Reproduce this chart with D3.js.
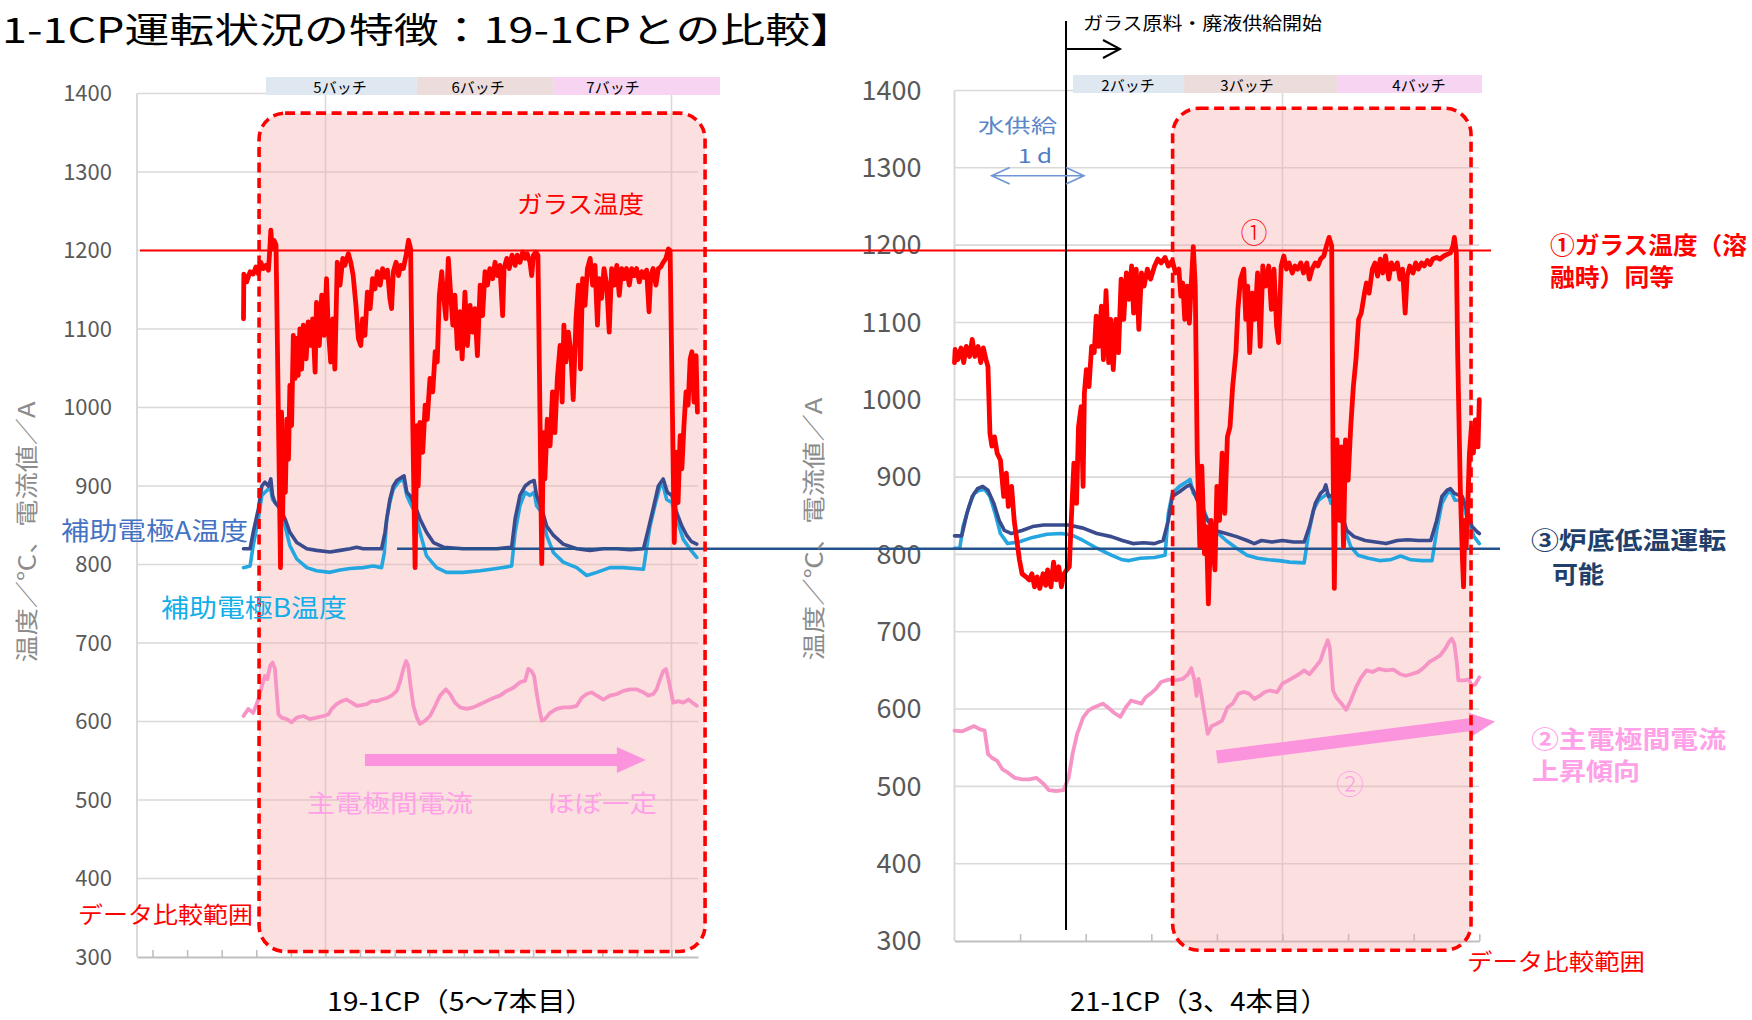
<!DOCTYPE html>
<html>
<head>
<meta charset="utf-8">
<script src="https://cdn.jsdelivr.net/npm/d3@7"></script>
<style>
  body { margin: 0; background: #fff; }
  svg { display: block; }
  text { font-family: "Noto Sans CJK JP", "Noto Sans", sans-serif; }
</style>
</head>
<body>
<svg id="chart" width="1752" height="1020"></svg>
<script>
// ---------------- data ----------------
// value axis (temperature / current), shared tick labels
const yTickValues = [300, 400, 500, 600, 700, 800, 900, 1000, 1100, 1200, 1300, 1400];

// time axis ticks (one tick per interval) and major gridlines
const leftTicks = [1, 2, 3, 4, 5, 6, 7, 8, 9, 10, 11, 12, 13, 14, 15, 16];
const leftGrid = [6, 16];
const rightTicks = [1, 2, 3, 4, 5, 6, 7, 8];
const rightGrid = [5];

// batch bands
const leftBatchNames = ["5バッチ", "6バッチ", "7バッチ"];
const leftBatchEdges = [4.28, 8.64, 12.58, 17.40];
const leftBatchLabelT = [6.42, 10.41, 14.31];
const rightBatchNames = ["2バッチ", "3バッチ", "4バッチ"];
const rightBatchEdges = [1.806, 3.50, 5.83, 8.04];
const rightBatchLabelT = [2.645, 4.459, 7.081];
const batchColors = ["#dfe7f1", "#ecdcdb", "#f6d4f2"];

// data comparison ranges [t0, t1, vLow, vHigh]
const leftRange = [4.08, 16.97, 307, 1375];
const rightRange = [3.325, 7.874, 288, 1377];

// reference levels
const glassLevel = 1200;      // glass temperature during melting
const bottomLevel = 820;      // low bottom temperature operation
const feedStartT = 1.70;      // start of glass frit / waste feed (21-1CP)
const waterFeedT = [0.567, 1.974];

// 19-1CP glass temperature [t, °C]
const leftGlass = [
  [3.63,1113],[3.64,1170],[3.72,1160],[3.82,1173],[3.91,1170],[3.99,1179],[4.06,1170],[4.13,1185],[4.20,1177],[4.28,1181],
  [4.35,1175],[4.38,1194],[4.42,1226],[4.46,1202],[4.51,1213],[4.57,1207],[4.64,985],[4.70,796],[4.73,994],[4.76,858],
  [4.80,968],[4.84,892],[4.88,985],[4.93,934],[4.97,1028],[5.02,977],[5.07,1092],[5.12,1037],[5.17,1088],[5.21,1041],
  [5.26,1100],[5.31,1049],[5.36,1105],[5.44,1062],[5.50,1109],[5.57,1079],[5.63,1113],[5.70,1045],[5.74,1134],[5.82,1079],
  [5.89,1143],[5.96,1092],[6.03,1164],[6.08,1100],[6.15,1058],[6.21,1113],[6.27,1049],[6.34,1185],[6.42,1156],[6.50,1190],
  [6.56,1181],[6.66,1196],[6.73,1185],[6.80,1168],[6.88,1130],[6.95,1088],[7.02,1079],[7.07,1113],[7.14,1092],[7.21,1147],
  [7.29,1126],[7.36,1164],[7.43,1151],[7.50,1173],[7.58,1156],[7.65,1177],[7.72,1166],[7.79,1175],[7.86,1139],[7.91,1126],
  [7.96,1173],[8.04,1185],[8.11,1168],[8.17,1181],[8.25,1177],[8.33,1194],[8.40,1213],[8.46,1202],[8.52,985],[8.59,796],
  [8.64,977],[8.68,900],[8.73,981],[8.81,943],[8.88,1003],[8.94,985],[9.02,1037],[9.10,1020],[9.17,1071],[9.23,1058],
  [9.29,1143],[9.36,1173],[9.41,1143],[9.48,1113],[9.55,1190],[9.62,1143],[9.68,1105],[9.74,1143],[9.81,1075],[9.89,1122],
  [9.95,1062],[10.03,1147],[10.10,1079],[10.18,1130],[10.25,1096],[10.32,1126],[10.39,1066],[10.47,1156],[10.54,1117],[10.61,1173],
  [10.68,1156],[10.75,1177],[10.83,1164],[10.90,1185],[10.97,1168],[11.04,1181],[11.12,1117],[11.16,1177],[11.24,1190],[11.31,1177],
  [11.39,1194],[11.48,1181],[11.54,1194],[11.62,1185],[11.70,1198],[11.77,1190],[11.83,1196],[11.91,1185],[11.96,1168],[12.01,1194],
  [12.08,1198],[12.14,1194],[12.20,985],[12.25,801],[12.30,968],[12.34,909],[12.41,985],[12.49,951],[12.56,1020],[12.63,968],
  [12.70,1037],[12.78,1079],[12.84,1007],[12.89,1105],[12.95,1058],[13.02,1096],[13.09,1071],[13.16,1010],[13.24,1113],[13.31,1156],
  [13.37,1049],[13.43,1164],[13.50,1130],[13.57,1177],[13.65,1190],[13.72,1156],[13.79,1181],[13.86,1105],[13.91,1164],[13.98,1139],
  [14.05,1177],[14.13,1156],[14.20,1096],[14.27,1177],[14.34,1156],[14.42,1181],[14.49,1143],[14.56,1177],[14.63,1164],[14.70,1177],
  [14.78,1156],[14.85,1177],[14.92,1168],[14.99,1177],[15.07,1160],[15.14,1173],[15.21,1166],[15.28,1175],[15.35,1122],[15.40,1168],
  [15.47,1177],[15.55,1156],[15.62,1177],[15.69,1179],[15.76,1185],[15.84,1190],[15.91,1202],[15.96,1200],[16.03,985],[16.08,828],
  [16.13,943],[16.19,879],[16.25,964],[16.30,922],[16.36,977],[16.42,1020],[16.48,1003],[16.54,1062],[16.59,1071],[16.65,1007],
  [16.71,1066],[16.75,994]
];

// 19-1CP auxiliary electrode A temperature
const leftElecA = [
  [3.63,820],[3.82,820],[3.91,841],[4.06,871],[4.16,900],[4.25,905],[4.35,900],[4.42,909],[4.47,888],[4.54,879],
  [4.69,871],[4.83,858],[4.97,841],[5.17,828],[5.46,820],[5.74,818],[6.13,816],[6.42,818],[6.71,820],[6.90,822],
  [7.09,820],[7.38,820],[7.62,820],[7.72,841],[7.77,858],[7.86,883],[7.96,900],[8.06,907],[8.20,911],[8.27,913],
  [8.35,892],[8.44,888],[8.59,875],[8.73,858],[8.92,841],[9.12,828],[9.41,822],[9.98,820],[10.47,820],[10.95,820],
  [11.38,822],[11.48,858],[11.62,888],[11.77,900],[11.91,905],[12.03,907],[12.10,888],[12.25,871],[12.39,849],[12.59,837],
  [12.87,826],[13.26,820],[13.64,818],[14.03,820],[14.42,820],[14.80,819],[15.19,820],[15.33,845],[15.47,871],[15.62,900],
  [15.76,909],[15.88,892],[16.01,888],[16.15,866],[16.30,849],[16.44,837],[16.58,829],[16.73,826]
];

// 19-1CP auxiliary electrode B temperature
const leftElecB = [
  [3.63,796],[3.82,798],[3.91,824],[4.06,858],[4.16,888],[4.25,892],[4.35,896],[4.40,900],[4.47,883],[4.54,879],
  [4.69,875],[4.83,849],[4.97,824],[5.17,807],[5.46,796],[5.74,792],[6.13,790],[6.42,793],[6.71,795],[7.09,796],
  [7.38,798],[7.62,796],[7.70,815],[7.77,858],[7.86,879],[7.96,896],[8.11,905],[8.25,909],[8.35,888],[8.44,879],
  [8.59,866],[8.73,841],[8.92,811],[9.21,796],[9.50,790],[9.98,790],[10.47,792],[10.95,795],[11.38,798],[11.48,841],
  [11.62,875],[11.77,892],[11.91,888],[12.03,892],[12.10,875],[12.25,866],[12.39,837],[12.59,815],[12.87,803],[13.26,796],
  [13.55,786],[13.84,790],[14.22,796],[14.61,796],[15.19,794],[15.26,815],[15.38,849],[15.52,875],[15.67,900],[15.76,900],
  [15.86,883],[16.01,879],[16.15,858],[16.34,832],[16.53,820],[16.73,809]
];

// 19-1CP main electrode current [t, A]
const leftCurrent = [
  [3.63,607],[3.77,616],[3.91,611],[4.06,628],[4.16,645],[4.25,658],[4.32,654],[4.40,671],[4.47,675],[4.54,667],
  [4.59,637],[4.64,609],[4.73,605],[4.88,603],[5.02,599],[5.17,605],[5.36,607],[5.55,603],[5.74,605],[5.94,607],
  [6.08,609],[6.18,616],[6.32,622],[6.47,626],[6.61,628],[6.76,624],[6.90,620],[7.05,621],[7.19,622],[7.33,626],
  [7.48,626],[7.62,628],[7.77,630],[7.91,633],[8.06,639],[8.15,650],[8.25,667],[8.33,677],[8.39,671],[8.46,645],
  [8.54,620],[8.64,605],[8.73,597],[8.88,601],[9.02,607],[9.17,620],[9.31,633],[9.48,641],[9.60,635],[9.74,624],
  [9.89,618],[10.08,616],[10.27,618],[10.47,622],[10.66,626],[10.85,630],[11.04,633],[11.24,639],[11.43,643],[11.62,650],
  [11.77,652],[11.86,667],[11.96,664],[12.03,658],[12.10,637],[12.18,616],[12.25,601],[12.34,603],[12.49,611],[12.68,616],
  [12.87,618],[13.07,618],[13.26,620],[13.40,630],[13.55,635],[13.69,637],[13.84,633],[14.03,628],[14.22,633],[14.42,635],
  [14.61,639],[14.80,641],[14.99,641],[15.19,637],[15.33,633],[15.47,635],[15.57,641],[15.67,654],[15.76,664],[15.84,667],
  [15.91,654],[15.98,639],[16.05,624],[16.20,626],[16.34,624],[16.49,628],[16.61,624],[16.73,620]
];

// 21-1CP glass temperature
const rightGlass = [
  [0.00,1048],[0.01,1065],[0.05,1052],[0.10,1067],[0.14,1048],[0.18,1069],[0.23,1056],[0.27,1078],[0.31,1056],[0.36,1069],
  [0.40,1048],[0.44,1067],[0.48,1052],[0.51,1043],[0.54,957],[0.57,940],[0.61,952],[0.65,931],[0.70,922],[0.75,875],
  [0.79,905],[0.82,862],[0.87,888],[0.91,844],[0.95,818],[0.99,793],[1.03,775],[1.09,771],[1.14,767],[1.18,775],
  [1.22,758],[1.26,771],[1.30,756],[1.35,775],[1.39,760],[1.42,780],[1.47,758],[1.51,790],[1.55,767],[1.59,784],
  [1.63,758],[1.67,775],[1.71,780],[1.75,784],[1.78,844],[1.82,918],[1.86,866],[1.89,965],[1.93,991],[1.96,888],
  [1.98,1009],[2.01,1039],[2.05,1017],[2.09,1069],[2.13,1061],[2.16,1108],[2.20,1069],[2.24,1121],[2.27,1052],[2.31,1141],
  [2.35,1048],[2.38,1104],[2.42,1039],[2.46,1104],[2.50,1061],[2.54,1156],[2.58,1104],[2.62,1164],[2.66,1130],[2.70,1173],
  [2.73,1112],[2.77,1169],[2.81,1091],[2.85,1164],[2.89,1147],[2.94,1169],[2.99,1156],[3.05,1173],[3.10,1182],[3.15,1177],
  [3.21,1184],[3.26,1173],[3.32,1180],[3.37,1164],[3.42,1169],[3.45,1134],[3.48,1151],[3.51,1104],[3.55,1147],[3.58,1099],
  [3.61,1151],[3.64,1198],[3.67,1147],[3.70,931],[3.74,810],[3.77,914],[3.81,801],[3.84,836],[3.87,736],[3.91,844],
  [3.94,810],[3.97,780],[4.00,888],[4.04,844],[4.08,931],[4.12,853],[4.16,952],[4.20,965],[4.24,1017],[4.29,1061],
  [4.32,1117],[4.36,1156],[4.41,1169],[4.44,1104],[4.47,1147],[4.50,1061],[4.54,1138],[4.58,1104],[4.62,1164],[4.66,1069],
  [4.70,1173],[4.74,1147],[4.79,1173],[4.83,1117],[4.87,1169],[4.91,1095],[4.94,1074],[4.98,1173],[5.02,1186],[5.06,1169],
  [5.10,1177],[5.15,1164],[5.19,1173],[5.23,1169],[5.28,1177],[5.32,1164],[5.37,1177],[5.41,1156],[5.45,1169],[5.50,1177],
  [5.54,1173],[5.58,1182],[5.63,1186],[5.67,1199],[5.71,1210],[5.75,1199],[5.77,931],[5.79,756],[5.81,888],[5.83,948],
  [5.87,844],[5.90,939],[5.93,810],[5.96,948],[6.00,896],[6.04,965],[6.08,1017],[6.12,1052],[6.16,1104],[6.20,1112],
  [6.25,1138],[6.28,1151],[6.32,1138],[6.37,1169],[6.41,1177],[6.45,1160],[6.49,1182],[6.53,1164],[6.57,1186],[6.62,1156],
  [6.66,1177],[6.70,1169],[6.75,1177],[6.79,1156],[6.83,1169],[6.87,1112],[6.90,1160],[6.94,1173],[6.99,1164],[7.03,1177],
  [7.07,1169],[7.12,1177],[7.16,1173],[7.21,1180],[7.25,1175],[7.29,1182],[7.35,1184],[7.40,1182],[7.46,1186],[7.51,1188],
  [7.56,1190],[7.60,1199],[7.62,1210],[7.65,1190],[7.67,1061],[7.71,888],[7.74,801],[7.76,758],[7.78,844],[7.80,810],
  [7.83,879],[7.85,931],[7.88,965],[7.91,931],[7.94,974],[7.98,939],[8.00,1000]
];

// 21-1CP auxiliary electrode A temperature
const rightElecA = [
  [0.00,824],[0.11,824],[0.19,853],[0.27,875],[0.35,885],[0.43,888],[0.51,883],[0.60,866],[0.68,844],[0.76,831],
  [0.87,827],[1.03,831],[1.19,836],[1.36,838],[1.52,838],[1.74,838],[1.96,834],[2.17,827],[2.39,823],[2.56,818],
  [2.72,814],[2.88,815],[3.05,814],[3.18,818],[3.26,844],[3.32,875],[3.43,881],[3.54,888],[3.59,890],[3.64,883],
  [3.70,870],[3.78,857],[3.86,844],[3.97,831],[4.14,827],[4.30,823],[4.46,818],[4.57,814],[4.68,818],[4.84,816],
  [5.00,818],[5.17,816],[5.33,816],[5.41,836],[5.50,866],[5.58,879],[5.63,883],[5.66,890],[5.70,875],[5.77,877],
  [5.82,870],[5.90,853],[5.98,831],[6.09,823],[6.26,818],[6.42,816],[6.58,814],[6.75,818],[6.91,819],[7.07,818],
  [7.26,818],[7.35,844],[7.43,875],[7.51,883],[7.56,885],[7.62,879],[7.68,877],[7.74,875],[7.81,857],[7.89,836],
  [7.97,829],[8.00,827]
];

// 21-1CP auxiliary electrode B temperature
const rightElecB = [
  [0.00,808],[0.08,808],[0.13,836],[0.22,862],[0.30,879],[0.38,883],[0.46,884],[0.54,875],[0.62,853],[0.70,827],
  [0.81,814],[0.98,816],[1.19,822],[1.41,826],[1.63,827],[1.79,825],[1.96,818],[2.17,808],[2.39,799],[2.56,793],
  [2.66,792],[2.83,795],[3.05,796],[3.21,799],[3.26,853],[3.32,879],[3.43,888],[3.54,894],[3.59,897],[3.64,879],
  [3.70,875],[3.78,862],[3.86,844],[3.97,831],[4.14,818],[4.30,808],[4.46,799],[4.62,795],[4.79,793],[4.95,792],
  [5.11,790],[5.33,789],[5.39,823],[5.47,857],[5.55,870],[5.63,875],[5.69,879],[5.74,866],[5.79,870],[5.85,862],
  [5.93,836],[6.04,810],[6.15,799],[6.31,795],[6.48,792],[6.64,793],[6.80,798],[6.96,793],[7.13,792],[7.28,792],
  [7.36,836],[7.43,866],[7.51,879],[7.57,881],[7.63,870],[7.70,870],[7.76,862],[7.83,844],[7.92,823],[8.00,814]
];

// 21-1CP main electrode current
const rightCurrent = [
  [0.00,572],[0.11,571],[0.19,574],[0.30,578],[0.38,574],[0.46,572],[0.51,542],[0.57,537],[0.65,533],[0.73,522],
  [0.81,518],[0.92,511],[1.03,509],[1.14,509],[1.25,511],[1.36,503],[1.44,495],[1.55,494],[1.66,495],[1.74,511],
  [1.80,542],[1.87,568],[1.96,589],[2.04,598],[2.12,602],[2.26,607],[2.34,602],[2.45,594],[2.53,590],[2.61,602],
  [2.69,611],[2.77,609],[2.85,607],[2.91,615],[2.99,620],[3.07,626],[3.15,635],[3.26,638],[3.37,637],[3.48,639],
  [3.56,645],[3.61,653],[3.66,637],[3.69,617],[3.72,639],[3.76,620],[3.81,594],[3.86,568],[3.92,578],[4.00,581],
  [4.08,585],[4.16,602],[4.24,607],[4.33,620],[4.41,622],[4.49,620],[4.57,613],[4.65,617],[4.73,622],[4.81,624],
  [4.92,622],[5.00,633],[5.09,637],[5.17,641],[5.25,645],[5.33,650],[5.41,645],[5.50,654],[5.58,663],[5.63,676],
  [5.69,689],[5.72,680],[5.77,624],[5.82,615],[5.90,607],[5.97,599],[6.04,611],[6.12,628],[6.20,641],[6.28,650],
  [6.37,648],[6.47,652],[6.58,650],[6.69,651],[6.80,645],[6.88,643],[6.96,645],[7.07,648],[7.16,654],[7.24,661],
  [7.32,665],[7.40,669],[7.48,678],[7.54,687],[7.58,691],[7.62,684],[7.66,658],[7.68,637],[7.76,637],[7.84,638],
  [7.89,630],[7.94,632],[8.00,641]
];

// trend arrows for the current [t, A] start -> tip
const leftTrend = [[7.14, 551], [15.26, 551]];
const rightTrend = [[3.998, 538], [8.24, 584]];

// ---------------- scales ----------------
const svg = d3.select("#chart");
const xL = d3.scaleLinear().domain([0.552, 16.766]).range([137, 698]);
const yL = d3.scaleLinear().domain([300, 1400]).range([957, 93.5]);
const xR = d3.scaleLinear().domain([0, 8]).range([954.5, 1479.3]);
const yR = d3.scaleLinear().domain([300, 1400]).range([941, 90.5]);

const COL = {
  grid: "#d9d9d9", axis: "#bfbfbf", tick: "#595959",
  glass: "#ff0000", elecA: "#3a4b8e", elecB: "#24a6e0", current: "#f794c6",
  navyNote: "#24528c", pinkArrow: "#fb94dc", pinkText: "#ffa0e8"
};

// text helper: optional fixed width via textLength
function label(g, o) {
  const t = g.append("text")
    .attr("x", o.x).attr("y", o.y)
    .attr("dominant-baseline", o.baseline || "central")
    .attr("text-anchor", o.anchor || "start")
    .attr("font-size", o.size)
    .attr("fill", o.color || "#000")
    .text(o.s);
  if (o.weight) t.attr("font-weight", o.weight);
  if (o.family) t.attr("font-family", o.family);
  if (o.w) t.attr("textLength", o.w).attr("lengthAdjust", "spacingAndGlyphs");
  if (o.rotate) t.attr("transform", `rotate(${o.rotate},${o.x},${o.y})`);
  return t;
}

function arrowPoints(x0, y0, x1, y1, hs, headLen, hh) {
  const dx = x1 - x0, dy = y1 - y0, L = Math.hypot(dx, dy);
  const ux = dx / L, uy = dy / L, nx = -uy, ny = ux;
  const bx = x1 - ux * headLen, by = y1 - uy * headLen;
  return [
    [x0 + nx * hs, y0 + ny * hs], [bx + nx * hs, by + ny * hs], [bx + nx * hh, by + ny * hh],
    [x1, y1], [bx - nx * hh, by - ny * hh], [bx - nx * hs, by - ny * hs], [x0 - nx * hs, y0 - ny * hs]
  ].map(p => p.join(",")).join(" ");
}

// ---------------- panel drawing ----------------
function drawPanel(cfg) {
  const { x, y, ticks, grid, labelPad, labelFont, labelSize } = cfg;
  const g = svg.append("g");
  const [x0, x1] = x.range();
  const [yb, yt] = y.range();

  // horizontal gridlines
  g.append("g").selectAll("line").data(yTickValues.filter(v => v > 300)).join("line")
    .attr("x1", x0).attr("x2", x1).attr("y1", d => y(d)).attr("y2", d => y(d))
    .attr("stroke", COL.grid).attr("stroke-width", 1.6);
  // vertical gridlines
  g.append("g").selectAll("line").data(grid).join("line")
    .attr("x1", d => x(d)).attr("x2", d => x(d)).attr("y1", yt).attr("y2", yb)
    .attr("stroke", COL.grid).attr("stroke-width", 1.6);
  // left axis line
  g.append("line").attr("x1", x0).attr("x2", x0).attr("y1", yt).attr("y2", yb)
    .attr("stroke", COL.grid).attr("stroke-width", 2);

  // bottom axis with inward ticks
  const bx = g.append("g").attr("transform", `translate(0,${yb})`)
    .call(d3.axisBottom(x).tickValues(ticks).tickSize(-7).tickSizeOuter(0).tickFormat(""));
  bx.select(".domain").attr("stroke", COL.axis).attr("stroke-width", 2);
  bx.selectAll(".tick line").attr("stroke", COL.axis).attr("stroke-width", 1.6);

  // value labels
  const ly = g.append("g").attr("transform", `translate(${x0},0)`)
    .call(d3.axisLeft(y).tickValues(yTickValues).tickSize(0).tickPadding(labelPad).tickFormat(d3.format("d")));
  ly.select(".domain").remove();
  ly.selectAll("text").attr("font-family", labelFont).attr("font-size", labelSize).attr("fill", COL.tick);
  return g;
}

function drawRange(x, y, r) {
  return svg.append("rect")
    .attr("x", x(r[0])).attr("y", y(r[3]))
    .attr("width", x(r[1]) - x(r[0])).attr("height", y(r[2]) - y(r[3]))
    .attr("rx", 26).attr("ry", 26);
}

function drawBatches(x, names, edges, labelT, top) {
  const g = svg.append("g");
  names.forEach((n, i) => {
    g.append("rect").attr("x", x(edges[i])).attr("y", top)
      .attr("width", x(edges[i + 1]) - x(edges[i])).attr("height", 18)
      .attr("fill", batchColors[i]);
    label(g, { x: x(labelT[i]), y: top + 9.5, s: n, size: 15, anchor: "middle" });
  });
}

function series(x, y, data, color, width) {
  const line = d3.line().x(d => x(d[0])).y(d => y(d[1]));
  svg.append("path").datum(data).attr("d", line)
    .attr("fill", "none").attr("stroke", color).attr("stroke-width", width)
    .attr("stroke-linejoin", "round").attr("stroke-linecap", "round");
}

// panels
drawPanel({ x: xL, y: yL, ticks: leftTicks, grid: leftGrid, labelPad: 25, labelFont: "Liberation Sans", labelSize: 22 });
drawPanel({ x: xR, y: yR, ticks: rightTicks, grid: rightGrid, labelPad: 33, labelFont: "Open Sans", labelSize: 27 });

// comparison range fills
drawRange(xL, yL, leftRange).attr("fill", "#f8a8a8").attr("fill-opacity", 0.36);
drawRange(xR, yR, rightRange).attr("fill", "#f8a8a8").attr("fill-opacity", 0.36);

// batch bands
drawBatches(xL, leftBatchNames, leftBatchEdges, leftBatchLabelT, 77);
drawBatches(xR, rightBatchNames, rightBatchEdges, rightBatchLabelT, 75);

// current trend arrows
svg.append("polygon").attr("fill", COL.pinkArrow)
  .attr("points", arrowPoints(xL(leftTrend[0][0]), yL(leftTrend[0][1]), xL(leftTrend[1][0]), yL(leftTrend[1][1]), 6, 29, 13));
svg.append("polygon").attr("fill", COL.pinkArrow)
  .attr("points", arrowPoints(xR(rightTrend[0][0]), yR(rightTrend[0][1]), xR(rightTrend[1][0]), yR(rightTrend[1][1]), 6.5, 25, 12));

// series: current, electrode B, electrode A
series(xL, yL, leftCurrent, COL.current, 3.8);
series(xR, yR, rightCurrent, COL.current, 3.8);
series(xL, yL, leftElecB, COL.elecB, 3.6);
series(xR, yR, rightElecB, COL.elecB, 3.6);
series(xL, yL, leftElecA, COL.elecA, 3.6);
series(xR, yR, rightElecA, COL.elecA, 3.6);

// low bottom temperature reference line
svg.append("line").attr("x1", 397).attr("x2", 1500).attr("y1", yL(bottomLevel)).attr("y2", yL(bottomLevel))
  .attr("stroke", COL.navyNote).attr("stroke-width", 2.4);

// glass temperature series
series(xL, yL, leftGlass, COL.glass, 4.8);
series(xR, yR, rightGlass, COL.glass, 4.8);

// glass temperature reference line
svg.append("line").attr("x1", 140).attr("x2", 1491).attr("y1", yL(glassLevel)).attr("y2", yL(glassLevel))
  .attr("stroke", COL.glass).attr("stroke-width", 2.2);

// comparison range outlines
[[xL, yL, leftRange], [xR, yR, rightRange]].forEach(([x, y, r]) => {
  drawRange(x, y, r).attr("fill", "none").attr("stroke", "#ff0000")
    .attr("stroke-width", 3.6).attr("stroke-dasharray", "10,5.5");
});

// feed start marker
const fx = xR(feedStartT);
svg.append("line").attr("x1", fx).attr("x2", fx).attr("y1", 21).attr("y2", 930)
  .attr("stroke", "#000").attr("stroke-width", 2);
svg.append("path").attr("d", `M${fx},49 H${fx + 54} M${fx + 37},40 L${fx + 54},49 L${fx + 37},58`)
  .attr("fill", "none").attr("stroke", "#000").attr("stroke-width", 2);
label(svg, { x: 1083, y: 22, s: "ガラス原料・廃液供給開始", size: 18, w: 239 });

// water feed duration
const wa = xR(waterFeedT[0]), wb = xR(waterFeedT[1]);
svg.append("path")
  .attr("d", `M${wa},175.7 H${wb} M${wa + 18},167.5 L${wa},175.7 L${wa + 18},184 M${wb - 18},167.5 L${wb},175.7 L${wb - 18},184`)
  .attr("fill", "none").attr("stroke", "#6f95d5").attr("stroke-width", 1.6);
label(svg, { x: 978, y: 124, s: "水供給", size: 19, w: 79, color: "#5b86c9" });
label(svg, { x: 1018, y: 154, s: "1 d", size: 19, w: 34, color: "#4d7cc7" });

// ---------------- texts ----------------
label(svg, { x: 2, y: 27, s: "1-1CP運転状況の特徴：19-1CPとの比較】", size: 35, w: 853 });

label(svg, { x: 517, y: 202, s: "ガラス温度", size: 24, w: 127, color: "#ff0000" });
label(svg, { x: 61, y: 529, s: "補助電極A温度", size: 25, w: 187, color: "#4472c4" });
label(svg, { x: 161, y: 606, s: "補助電極B温度", size: 25, w: 186, color: "#12aee9" });
label(svg, { x: 307, y: 801, s: "主電極間電流", size: 24, w: 166, color: COL.pinkText });
label(svg, { x: 547, y: 801, s: "ほぼ一定", size: 24, w: 110, color: COL.pinkText });
label(svg, { x: 78, y: 913, s: "データ比較範囲", size: 23, w: 175, color: "#ff0000" });
label(svg, { x: 1467, y: 960, s: "データ比較範囲", size: 23, w: 178, color: "#ff0000" });

label(svg, { x: 1254, y: 231, s: "①", size: 27, anchor: "middle", color: "#ff0000", weight: 300 });
label(svg, { x: 1350, y: 783, s: "②", size: 28, anchor: "middle", color: COL.pinkText, weight: 300 });

label(svg, { x: 1550, y: 243, s: "①ガラス温度（溶", size: 24, w: 197, color: "#ff0000", weight: 700 });
label(svg, { x: 1550, y: 275, s: "融時）同等", size: 24, w: 124, color: "#ff0000", weight: 700 });
label(svg, { x: 1531, y: 538, s: "③炉底低温運転", size: 24, w: 195, color: "#203f6b", weight: 700 });
label(svg, { x: 1552, y: 572, s: "可能", size: 24, w: 52, color: "#203f6b", weight: 700 });
label(svg, { x: 1531, y: 737, s: "②主電極間電流", size: 24, w: 195, color: COL.pinkText, weight: 700 });
label(svg, { x: 1532, y: 769, s: "上昇傾向", size: 24, w: 108, color: COL.pinkText, weight: 700 });

// axis titles
label(svg, { x: 25, y: 532, s: "温度／℃、電流値／A", size: 23, w: 261, color: "#8c8c8c", anchor: "middle", rotate: -90 });
label(svg, { x: 812, y: 529, s: "温度／℃、電流値／A", size: 23, w: 263, color: "#8c8c8c", anchor: "middle", rotate: -90 });

// panel captions
label(svg, { x: 327, y: 999, s: "19-1CP（5～7本目）", size: 26, w: 267 });
label(svg, { x: 1070, y: 999, s: "21-1CP（3、4本目）", size: 26, w: 258 });
</script>
</body>
</html>
